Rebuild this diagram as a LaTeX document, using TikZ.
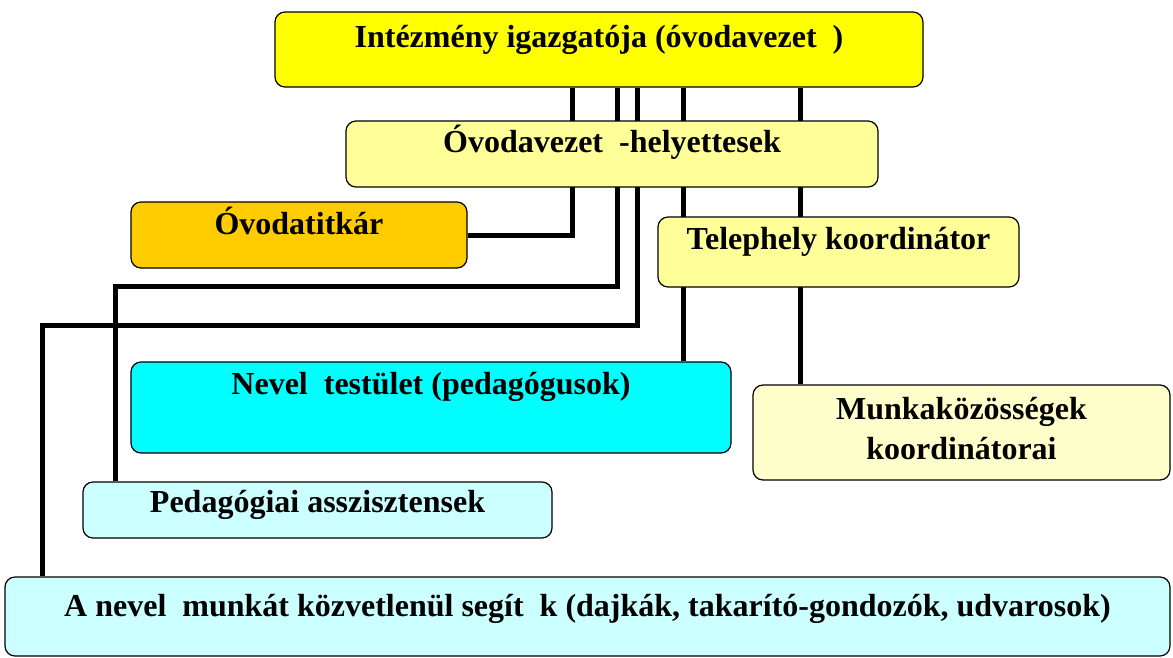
\documentclass[tikz,border=0pt]{standalone}
\usepackage{fontspec}
\setmainfont{Liberation Serif}
\usetikzlibrary{backgrounds}

\definecolor{sarga}{HTML}{FFFF00}
\definecolor{halvanysarga}{HTML}{FFFF99}
\definecolor{narancs}{HTML}{FFCC00}
\definecolor{krem}{HTML}{FFFFCC}
\definecolor{turkiz}{HTML}{00FFFF}
\definecolor{halvanykek}{HTML}{CCFFFF}

\tikzset{
  doboz/.style={draw, rounded corners=10pt, line width=1.2pt, inner sep=0pt},
  felirat/.style={font=\bfseries\fontsize{32}{40}\selectfont, anchor=base, align=center},
  vonal/.style={line width=5pt}
}

\begin{document}
\begin{tikzpicture}[x=1pt, y=-1pt]
\useasboundingbox (0,0) rectangle (1173,657);

% Dobozok
\node[doboz, fill=sarga, minimum width=648pt, minimum height=75pt] (igazgato) at (599,49.5) {};
\node[felirat] at ([yshift=-36pt]igazgato.north) {Intézmény igazgatója (óvodavezet\ \ )};

\node[doboz, fill=halvanysarga, minimum width=532pt, minimum height=66pt] (helyettes) at (612,154) {};
\node[felirat] at ([yshift=-32pt]helyettes.north) {Óvodavezet\ \ -helyettesek};

\node[doboz, fill=narancs, minimum width=336pt, minimum height=66pt] (titkar) at (299,235) {};
\node[felirat] at ([yshift=-33pt]titkar.north) {Óvodatitkár};

\node[doboz, fill=halvanysarga, minimum width=361pt, minimum height=70pt] (telephely) at (838.5,252) {};
\node[felirat] at ([yshift=-33pt]telephely.north) {Telephely koordinátor};

\node[doboz, fill=turkiz, minimum width=600pt, minimum height=91pt] (nevelo) at (431,407.5) {};
\node[felirat] at ([yshift=-33pt]nevelo.north) {Nevel\ \ testület (pedagógusok)};

\node[doboz, fill=krem, minimum width=417pt, minimum height=95pt] (munka) at (961.5,432.5) {};
\node[felirat] at ([yshift=-75pt]munka.north) {Munkaközösségek\\koordinátorai};

\node[doboz, fill=halvanykek, minimum width=469pt, minimum height=56pt] (asszisztens) at (317.5,510) {};
\node[felirat] at ([yshift=-31pt]asszisztens.north) {Pedagógiai asszisztensek};

\node[doboz, fill=halvanykek, minimum width=1165pt, minimum height=79pt] (segito) at (587.5,616.5) {};
\node[felirat] at ([yshift=-40pt]segito.north) {A nevel\ \ munkát közvetlenül segít\ \ k (dajkák, takarító-gondozók, udvarosok)};

% Vonalak a dobozok mögött
\coordinate (k1) at (115,286);
\coordinate (k2) at (42,325);
\begin{scope}[on background layer]
\draw[vonal] ([xshift=-27pt]igazgato.south) |- (titkar.east);
\draw[vonal] ([xshift=18pt]igazgato.south) |- (k1) -- (asszisztens.north -| k1);
\draw[vonal] ([xshift=38pt]igazgato.south) |- (k2) -- (segito.north -| k2);
\draw[vonal] ([xshift=84pt]igazgato.south) -- ([xshift=252pt]nevelo.north);
\draw[vonal] ([xshift=201pt]igazgato.south) -- ([xshift=-161.5pt]munka.north);
\end{scope}
\end{tikzpicture}
\end{document}
